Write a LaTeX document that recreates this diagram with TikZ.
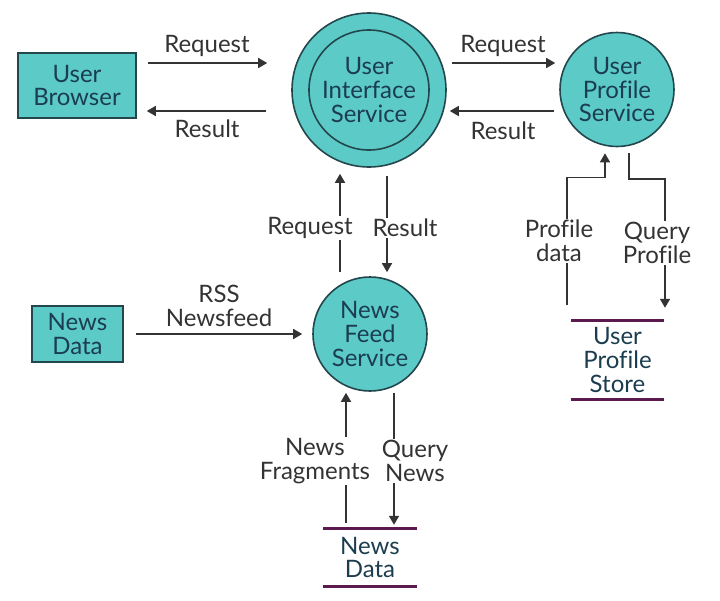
\documentclass[tikz,border=0pt]{standalone}
\usepackage{fontspec}
\setmainfont[Ligatures=NoCommon]{Lato}
\usetikzlibrary{arrows.meta,calc}
\definecolor{tealfill}{HTML}{5CCBC8}
\definecolor{edgec}{HTML}{24464D}
\definecolor{ntext}{HTML}{1B3D4F}
\definecolor{ltext}{HTML}{333333}
\definecolor{storec}{HTML}{5B1A4F}
\tikzset{
  base/.style={font=\fontsize{24}{23.6}\selectfont, align=center},
  ext/.style={base, draw=edgec, line width=1.6pt, fill=tealfill, text=ntext, inner sep=0pt},
  proc/.style={base, circle, draw=edgec, line width=1.6pt, fill=tealfill, text=ntext, inner sep=0pt},
  store/.style={base, text=ntext, minimum width=93pt, inner sep=0pt},
  storeline/.style={draw=storec, line width=3pt},
  arr/.style={draw=ltext, line width=1.6pt, -{Triangle[length=9pt,width=10pt]}},
  lbl/.style={base, text=ltext, fill=white, inner sep=1pt},
}
\begin{document}
\begin{tikzpicture}[x=1pt,y=-1pt]
\useasboundingbox (0,0) rectangle (720,600);
% nodes
\node[ext, minimum width=118pt, minimum height=65pt] (UB) at (77,85.5) {User\\Browser};
\node[ext, minimum width=91pt, minimum height=56pt] (ND) at (77.5,334) {News\\Data};
\node[proc, minimum size=154pt] (UIS) at (369,90) {User\\Interface\\Service};
\draw[edgec, line width=1.6pt] (UIS.center) circle[radius=60pt];
\node[proc, minimum size=114pt] (UPS) at (617,89.5) {User\\Profile\\Service};
\node[proc, minimum size=114pt] (NFS) at (370,334) {News\\Feed\\Service};
\node[store, minimum height=78pt] (UPSt) at (617.5,360) {User\\Profile\\Store};
\draw[storeline] (UPSt.north west) -- (UPSt.north east);
\draw[storeline] (UPSt.south west) -- (UPSt.south east);
\node[store, minimum height=57pt] (NDs) at (370,557.5) {News\\Data};
\draw[storeline] (NDs.north west) -- (NDs.north east);
\draw[storeline] (NDs.south west) -- (NDs.south east);
% connectors
\draw[arr] ($(UB.east)+(11,-22.5)$) -- ($(UIS.west)+(-24,-27)$);
\draw[arr] ($(UIS.west)+(-25,21)$) -- ($(UB.east)+(10,25.5)$);
\draw[arr] ($(UIS.east)+(5,-27)$) -- ($(UPS.west)+(-4,-26.5)$);
\draw[arr] ($(UPS.west)+(-5,21.5)$) -- ($(UIS.east)+(3,21)$);
\draw[arr] ($(NFS.north)+(-30,-4)$) -- ($(UIS.south)+(-29,6)$);
\draw[arr] ($(UIS.south)+(18,8)$) -- ($(NFS.north)+(17,-4)$);
\draw[arr] ($(UPSt.north)+(-50.5,-16)$) |- ($(UPS.south)+(-12,30)$) -- ($(UPS.south)+(-12,6)$);
\draw[arr] ($(UPS.south)+(12,6)$) |- ($(UPSt.north)+(47.5,-142)$) -- ($(UPSt.north)+(47.5,-13)$);
\draw[arr] ($(ND.east)+(12,0)$) -- ($(NFS.west)+(-10,0)$);
\draw[arr] ($(NDs.north)+(-24,-6)$) -- ($(NFS.south)+(-24,1)$);
\draw[arr] ($(NFS.south)+(24,1)$) -- ($(NDs.north)+(24,-4)$);
% labels
\node[lbl] (l1) at (207,46) {Request};
\node[lbl] (l2) at (207,129) {Result};
\node[lbl] (l3) at (503,46) {Request};
\node[lbl] (l4) at (503,131) {Result};
\node[lbl] (l5) at (310,228) {Request};
\node[lbl] (l6) at (405,228) {Result};
\node[lbl] (l7) at (559,241) {Profile\\data};
\node[lbl] (l8) at (657,243) {Query\\Profile};
\node[lbl] (l9) at (219,306) {RSS\\Newsfeed};
\node[lbl] (l10) at (315,461) {News\\Fragments};
\node[lbl] (l11) at (415,461) {Query\\News};
\end{tikzpicture}
\end{document}
